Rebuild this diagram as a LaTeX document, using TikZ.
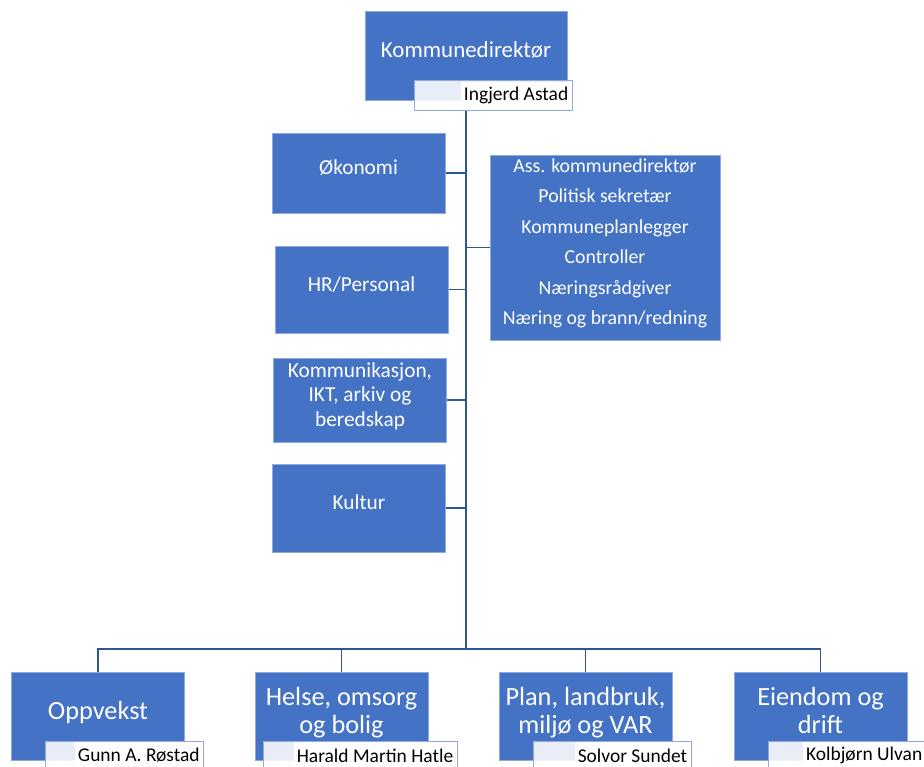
\documentclass[tikz,border=0pt]{standalone}
\usepackage{fontspec}
\setmainfont{Carlito}
\definecolor{enhetblaa}{HTML}{4472C4}
\definecolor{kantblaa}{HTML}{8FAADC}
\definecolor{linjeblaa}{HTML}{2F5597}
\usetikzlibrary{positioning}

\begin{document}
\begin{tikzpicture}[x=0.75pt, y=-0.75pt,
    enhet/.style={fill=enhetblaa, draw=kantblaa, line width=0.75pt, text=white,
      align=center, inner sep=2pt},
    stab/.style={enhet, minimum width=129.75pt, text depth=8.3pt,
      font=\fontsize{16}{18.4}\selectfont},
    omrade/.style={enhet, minimum width=129.75pt, minimum height=66pt,
      text depth=8.5pt, font=\fontsize{19.7}{21}\selectfont},
    navn/.style={fill=white, fill opacity=0.88, draw=kantblaa, line width=0.75pt,
      minimum width=118.5pt, minimum height=21.75pt},
    navntekst/.style={fill=white, text=black, anchor=east, inner sep=2pt,
      minimum height=20pt, font=\fontsize{14.6}{17}\selectfont},
    linje/.style={draw=linjeblaa, line width=1pt},
    stamme/.style={draw=linjeblaa, line width=1.6pt}]
  \useasboundingbox (0,0) rectangle (924,767);
  % Kommunedirektør
  \node[enhet, minimum width=151.5pt, minimum height=66pt, text depth=9.5pt,
    font=\fontsize{17.2}{20}\selectfont] (dir) at (466,56) {Kommunedirektør};
  % Stab
  \node[stab, minimum height=60pt] (okonomi) at (358.5,173) {Økonomi};
  \node[stab, minimum height=65.25pt] (hr) at (361.5,289.5) {HR/Personal};
  \node[stab, minimum height=63pt] (ikt) at (360,400)
    {Kommunikasjon,\\IKT, arkiv og\\beredskap};
  \node[stab, minimum height=66pt] (kultur) at (359,508) {Kultur};
  \node[enhet, minimum width=172.5pt, minimum height=138.75pt, text depth=9pt,
    font=\fontsize{14.85}{22.9}\selectfont] (ass) at (605,247.5)
    {Ass. kommunedirektør\\Politisk sekretær\\Kommuneplanlegger\\Controller\\%
     Næringsrådgiver\\Næring og brann/redning};
  % Kommunalområder
  \node[omrade] (oppvekst) at (98,716) {Oppvekst};
  \node[omrade] (helse) at (341.5,716) {Helse, omsorg\\og bolig};
  \node[omrade] (plan) at (585.5,716) {Plan, landbruk,\\miljø og VAR};
  \node[omrade] (eiendom) at (820.5,716) {Eiendom og\\drift};
  % Linjer
  \coordinate (bus) at (466,649);
  \draw[stamme] (dir.south) -- (bus);
  \draw[linje] (okonomi.east) -- (okonomi.east -| bus);
  \draw[linje] (hr.east) -- (hr.east -| bus);
  \draw[linje] (ikt.east) -- (ikt.east -| bus);
  \draw[linje] (kultur.east) -- (kultur.east -| bus);
  \draw[linje] (ass.west -| bus) -- (ass.west);
  \draw[linje] (oppvekst.north) |- (bus);
  \draw[linje] (helse.north) |- (bus);
  \draw[linje] (plan.north) |- (bus);
  \draw[linje] (eiendom.north) |- (bus);
  % Navn
  \node[navn] (ingjerd) at (493,95.5) {};
  \node[navntekst] (ingjerdtekst) at ([xshift=-1pt]ingjerd.east) {Ingjerd Astad};
  \node[navn] (gunn) at (124.5,755.5) {};
  \node[navntekst] (gunntekst) at ([xshift=-1pt]gunn.east) {Gunn A. Røstad};
  \node[navn, minimum width=145.5pt] (harald) at (360,755.5) {};
  \node[navntekst] (haraldtekst) at ([xshift=-1pt]harald.east) {Harald Martin Hatle};
  \node[navn] (solvor) at (612,755.5) {};
  \node[navntekst] (solvortekst) at ([xshift=-1pt]solvor.east) {Solvor Sundet};
  \node[navn] (kolbjorn) at (847,755.5) {};
  \node[navntekst] (kolbjorntekst) at ([xshift=-1pt]kolbjorn.east) {Kolbjørn Ulvan};
\end{tikzpicture}
\end{document}
